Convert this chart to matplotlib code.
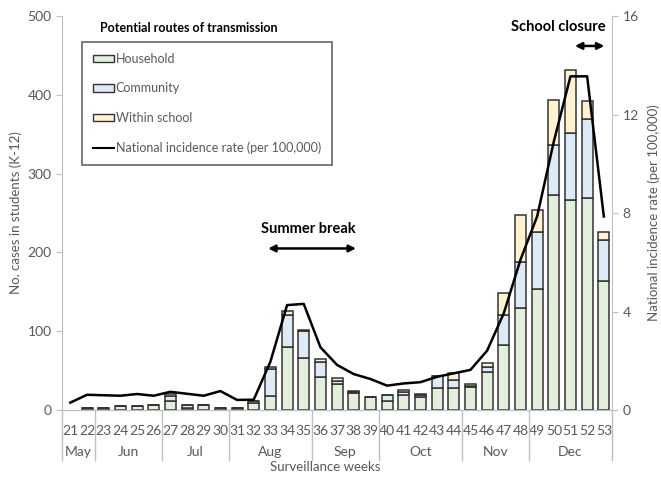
import numpy as np
import matplotlib
matplotlib.use("Agg")
import matplotlib.pyplot as plt
from matplotlib.patches import Patch
from matplotlib.lines import Line2D
import matplotlib.transforms as mtransforms

plt.rcParams['font.family'] = ['Lato', 'DejaVu Sans']

# surveillance weeks and month groups
weeks = list(range(21, 54))
months = ["May", "Jun", "Jul", "Aug", "Sep", "Oct", "Nov", "Dec"]
month_sizes = [2, 4, 4, 5, 4, 5, 4, 5]

# cases in students by route
household = [0, 2, 2, 5, 5, 7, 11, 3, 6, 3, 2, 9, 18, 80, 66, 42, 33, 21, 17,
             12, 19, 16, 28, 28, 29, 48, 83, 129, 154, 273, 266, 269, 164]
community = [0, 0, 0, 0, 0, 0, 7, 3, 0, 0, 0, 2, 34, 41, 34, 19, 4, 2, 0,
             7, 4, 3, 15, 10, 2, 6, 38, 59, 72, 63, 85, 100, 52]
school = [0, 0, 0, 0, 0, 0, 2, 0, 0, 0, 0, 1, 3, 5, 1, 4, 4, 1.5, 0,
          0.5, 2, 1, 0.5, 9, 2, 6, 28, 59, 28, 57, 81, 23, 10]

# national incidence rate per 100,000 (right axis)
rate = [0.30, 0.62, 0.60, 0.58, 0.65, 0.58, 0.74, 0.66, 0.58, 0.77, 0.41, 0.42,
        1.96, 4.26, 4.31, 2.55, 1.83, 1.46, 1.26, 0.99, 1.08, 1.13, 1.35, 1.49,
        1.63, 2.41, 3.93, 6.10, 7.86, 10.9, 13.55, 13.55, 7.86]

household = np.array(household, dtype=float)
community = np.array(community, dtype=float)
school = np.array(school, dtype=float)
x = np.arange(len(weeks))
has_bar = (household + community + school) > 0

fig = plt.figure(figsize=(6.61, 4.79), dpi=100)
ax = fig.add_axes([0.0938, 0.144, 0.8323, 0.8226])
ax2 = ax.twinx()

c_house = "#E2EFDA"
c_comm = "#DDEBF7"
c_school = "#FFF2CC"
edge = "#333333"
w = 0.66

ax.bar(x[has_bar], household[has_bar], w, color=c_house, edgecolor=edge, linewidth=1.1, zorder=2)
ax.bar(x[has_bar], community[has_bar], w, bottom=household[has_bar], color=c_comm,
       edgecolor=edge, linewidth=1.1, zorder=2)
ax.bar(x[has_bar], school[has_bar], w, bottom=(household + community)[has_bar], color=c_school,
       edgecolor=edge, linewidth=1.1, zorder=2)

ax2.plot(x, rate, color="black", linewidth=1.8, zorder=3)

ax.set_xlim(-0.5, len(weeks) - 0.5)
ax.set_ylim(0, 500)
ax2.set_ylim(0, 16)
ax.set_yticks(range(0, 501, 100))
ax2.set_yticks(range(0, 17, 4))

grey = "#BFBFBF"
txt = "#595959"
for a in (ax, ax2):
    for s in a.spines.values():
        s.set_color(grey)
    a.spines['top'].set_visible(False)
    a.tick_params(axis='y', colors=grey, labelcolor=txt, labelsize=10, length=4)
ax.spines['right'].set_visible(False)
ax2.spines['left'].set_visible(False)

ax.set_xticks(x)
ax.set_xticklabels([str(wk) for wk in weeks], fontsize=10, color=txt)
ax.tick_params(axis='x', length=0, pad=11)

ax.set_ylabel("No. cases in students (K-12)", fontsize=9.5, color=txt, labelpad=4)
ax2.set_ylabel("National incidence rate (per 100,000)", fontsize=9.5, color=txt, labelpad=6)
ax.set_xlabel("Surveillance weeks", fontsize=9.5, color=txt)
ax.xaxis.set_label_coords(0.478, -0.13)

# month group labels and separators below the axis
trans = mtransforms.blended_transform_factory(ax.transData, ax.transAxes)
start = -0.5
ax.plot([start, start], [0, -0.128], transform=trans, color=grey, lw=1, clip_on=False)
for m, n in zip(months, month_sizes):
    end = start + n
    ax.text((start + end) / 2, -0.107, m, transform=trans, ha='center', va='center',
            fontsize=10, color=txt)
    ax.plot([end, end], [0, -0.128], transform=trans, color=grey, lw=1, clip_on=False)
    start = end

# legend with title above the box
handles = [Patch(facecolor=c_house, edgecolor=edge, label="Household"),
           Patch(facecolor=c_comm, edgecolor=edge, label="Community"),
           Patch(facecolor=c_school, edgecolor=edge, label="Within school"),
           Line2D([0], [0], color="black", lw=1.5, label="National incidence rate (per 100,000)")]
leg = ax.legend(handles=handles, loc="upper left", bbox_to_anchor=(0.036, 0.935),
                frameon=True, fancybox=False, fontsize=9, labelspacing=1.4,
                handlelength=1.7, handleheight=0.55, handletextpad=0.1,
                borderpad=0.9, borderaxespad=0)
leg.get_frame().set_edgecolor("#404040")
leg.get_frame().set_linewidth(1.2)
for t in leg.get_texts():
    t.set_color(txt)
ax.text(0.069, 0.97, "Potential routes of transmission", transform=ax.transAxes,
        fontsize=9, fontweight='bold', va='center', ha='left')

# period annotations
ax.text(14.3, 230, "Summer break", ha='center', va='center', fontsize=10.5, fontweight='bold')
ax.annotate("", xy=(11.7, 205), xytext=(17.3, 205),
            arrowprops=dict(arrowstyle="<|-|>", color="black", lw=1.8, mutation_scale=10))
ax.text(32.1, 486, "School closure", ha='right', va='center', fontsize=10.5, fontweight='bold')
ax.annotate("", xy=(30.1, 462), xytext=(32.2, 462),
            arrowprops=dict(arrowstyle="<|-|>", color="black", lw=1.8, mutation_scale=10))

fig.savefig("out.png", dpi=100)
